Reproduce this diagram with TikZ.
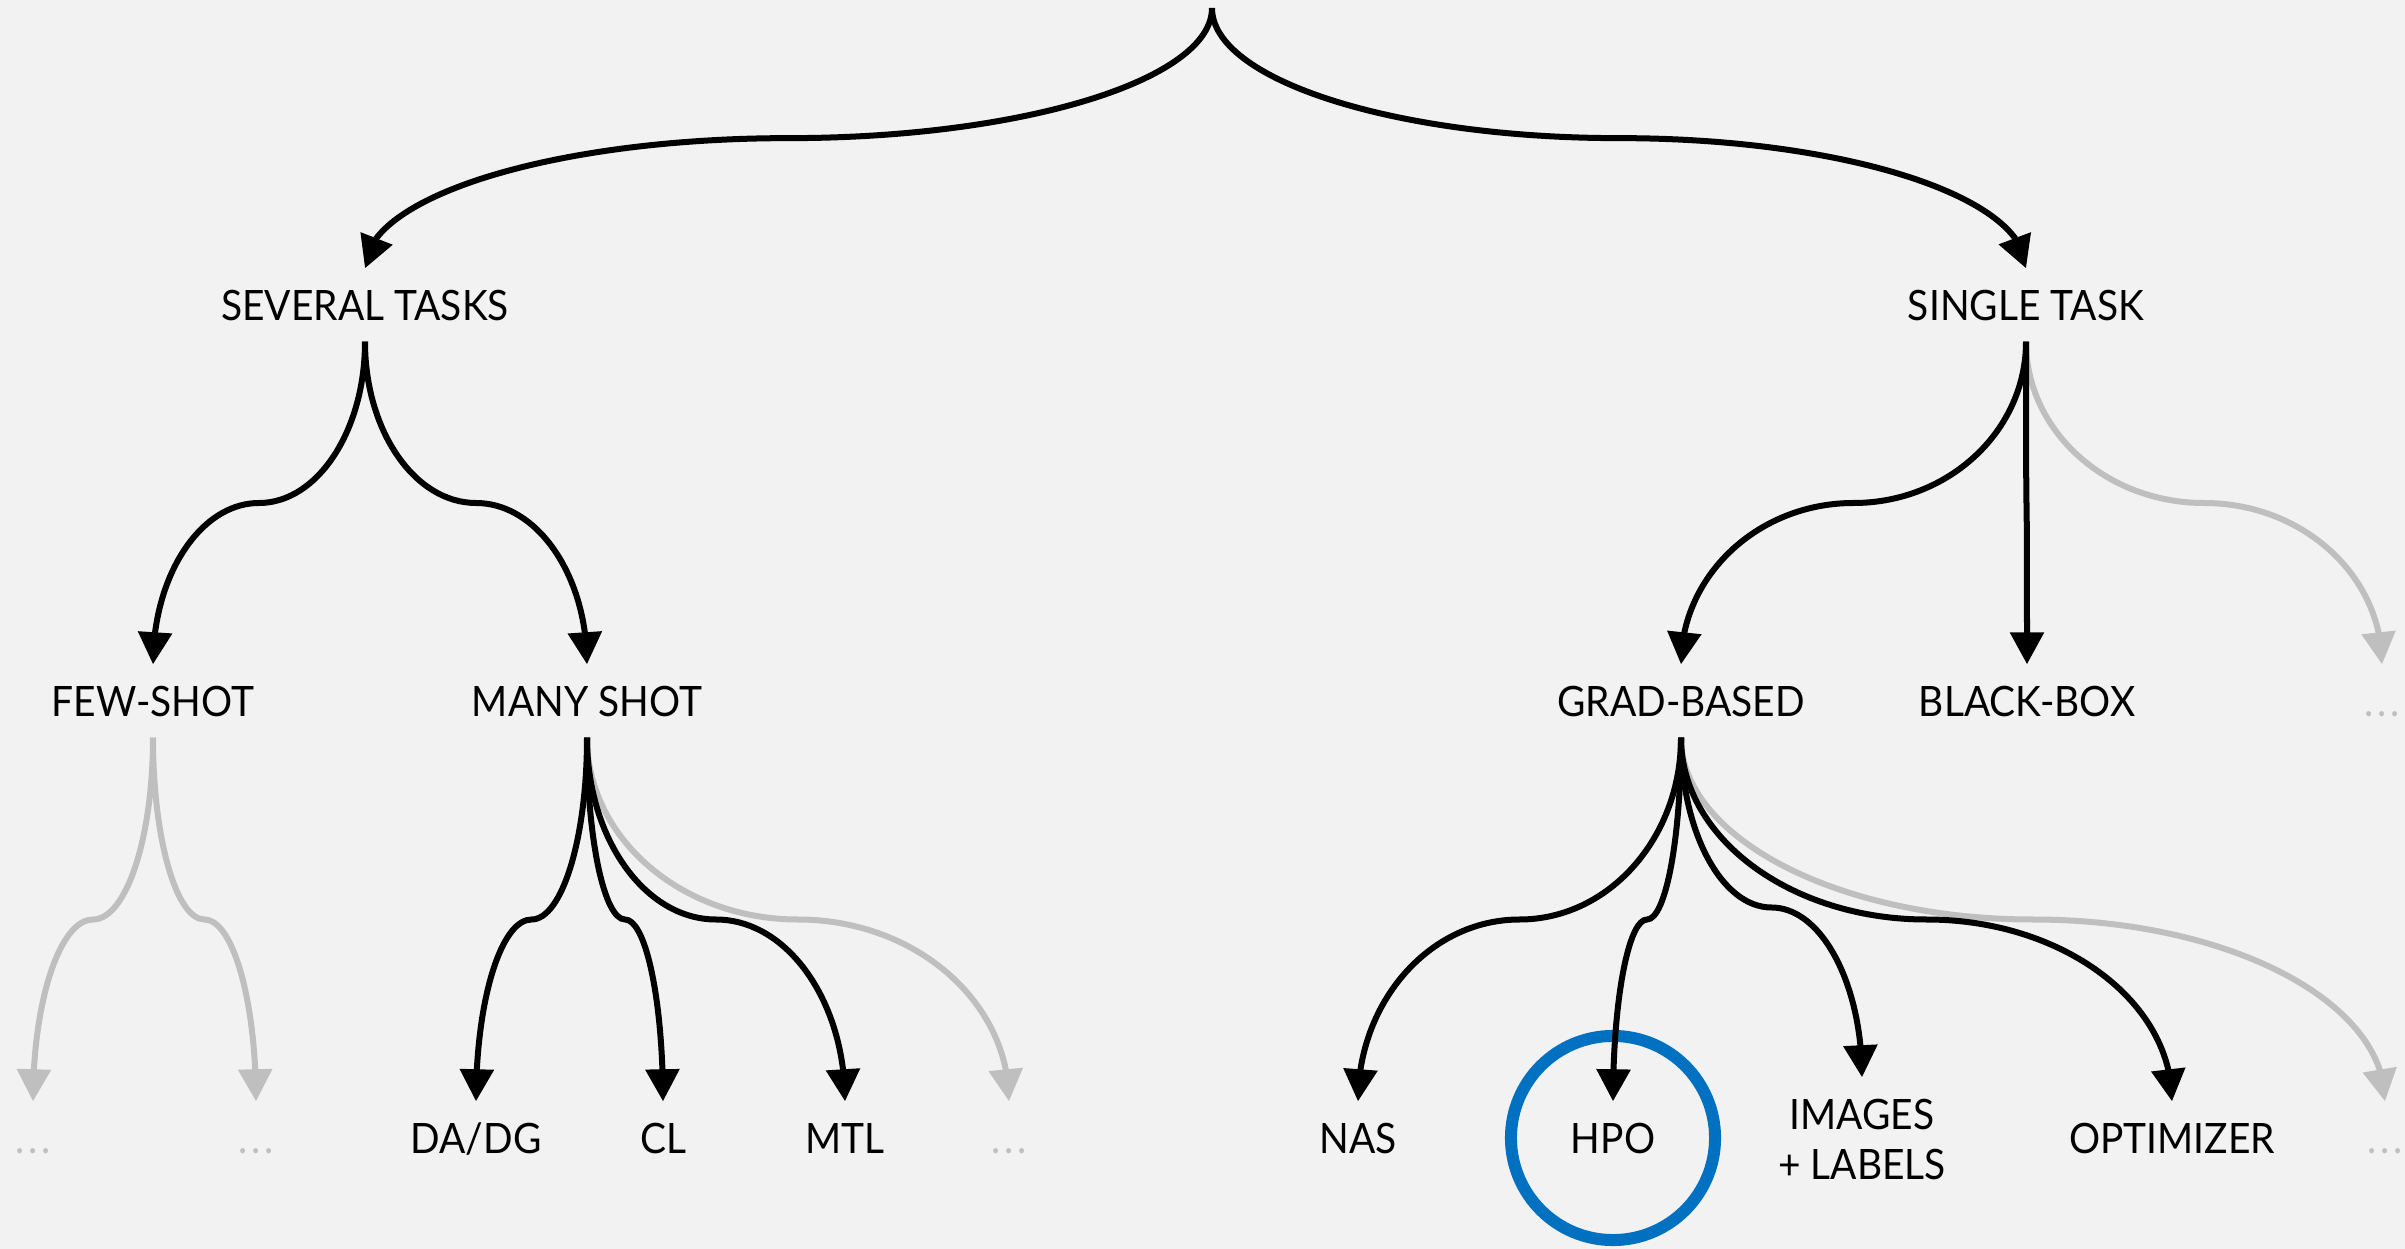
\documentclass[tikz,border=0pt]{standalone}
\usepackage{fontspec}
\setmainfont{Lato}[FakeStretch=0.93]
\usetikzlibrary{calc, arrows.meta, bending}
\definecolor{paper}{HTML}{F2F2F2}
\definecolor{faded}{HTML}{BFBFBF}
\definecolor{hilite}{HTML}{0070C0}
\tikzset{
    x=0.01cm, y=-0.01cm, % pixel-like units, y grows downwards
    tag/.style={inner xsep=0pt, inner ysep=0.21cm, text height=0.3cm, text depth=0pt,
        font=\fontsize{11.9}{14.2}\selectfont},
    gone/.style={tag, text=faded}, % greyed-out "..." leaves
    link/.style={line width=0.06cm, -{Triangle[flex, length=0.32cm, width=0.33cm]}},
    dim/.style={draw=faded},
}
\newcommand{\more}{.\kern1.2pt.\kern1.2pt.}
% curved connector: down from #2, flat at half way, down again into #3
\newcommand{\branch}[3][]{%
  \coordinate (mid) at ($(#2)!0.5!(#3)$);
  \draw[link,#1] (#2) .. controls ($(#2)!0.552!(#2 |- mid)$) and ($(mid)!0.552!(#2 |- mid)$) .. (mid)
    .. controls ($(mid)!0.552!(#3 |- mid)$) and ($(#3)!0.552!(#3 |- mid)$) .. (#3);}

\begin{document}
\begin{tikzpicture}
  \fill[paper] (0,0) rectangle (2405,1249);
  \useasboundingbox (0,0) rectangle (2405,1249);

  \coordinate (root) at (1212,8);
  \node[tag] (several) at (365,305) {SEVERAL TASKS};
  \node[tag] (single) at (2026,305) {SINGLE TASK};

  \node[tag] (few) at (153,701) {FEW-SHOT};
  \node[tag] (many) at (587,701) {MANY SHOT};
  \node[tag] (grad) at (1681,701) {GRAD-BASED};
  \node[tag] (blackbox) at (2027,701) {BLACK-BOX};
  \node[gone] (moresingle) at (2382,701) {\more};

  \node[gone] (fewa) at (33,1138) {\more};
  \node[gone] (fewb) at (256,1138) {\more};
  \node[tag] (dadg) at (476,1138) {DA/DG};
  \node[tag] (cl) at (663,1138) {CL};
  \node[tag] (mtl) at (845,1138) {MTL};
  \node[gone] (moremany) at (1009,1138) {\more};
  \node[tag] (nas) at (1358,1138) {NAS};
  \node[tag] (hpo) at (1613,1138) {HPO};
  \node[tag, align=center, text height=0.8cm] (images) at (1862,1139) {IMAGES\\+ LABELS};
  \node[tag] (optim) at (2172,1138) {OPTIMIZER};
  \node[gone] (moregrad) at (2385,1138) {\more};

  \draw[hilite, line width=0.12cm] (hpo) circle [radius=1.02cm];

  % greyed branches first, so the black ones lie on top
  \branch[dim]{single.south}{moresingle.north}
  \branch[dim]{few.south}{fewa.north}
  \branch[dim]{few.south}{fewb.north}
  \branch[dim]{many.south}{moremany.north}
  \branch[dim]{grad.south}{moregrad.north}

  \branch{root}{several.north}
  \branch{root}{single.north}
  \branch{several.south}{few.north}
  \branch{several.south}{many.north}
  \branch{single.south}{grad.north}
  \branch{single.south}{blackbox.north}

  \branch{many.south}{dadg.north}
  \branch{many.south}{cl.north}
  \branch{many.south}{mtl.north}

  \branch{grad.south}{nas.north}
  \branch{grad.south}{hpo.north}
  \branch{grad.south}{images.north}
  \branch{grad.south}{optim.north}
\end{tikzpicture}
\end{document}
